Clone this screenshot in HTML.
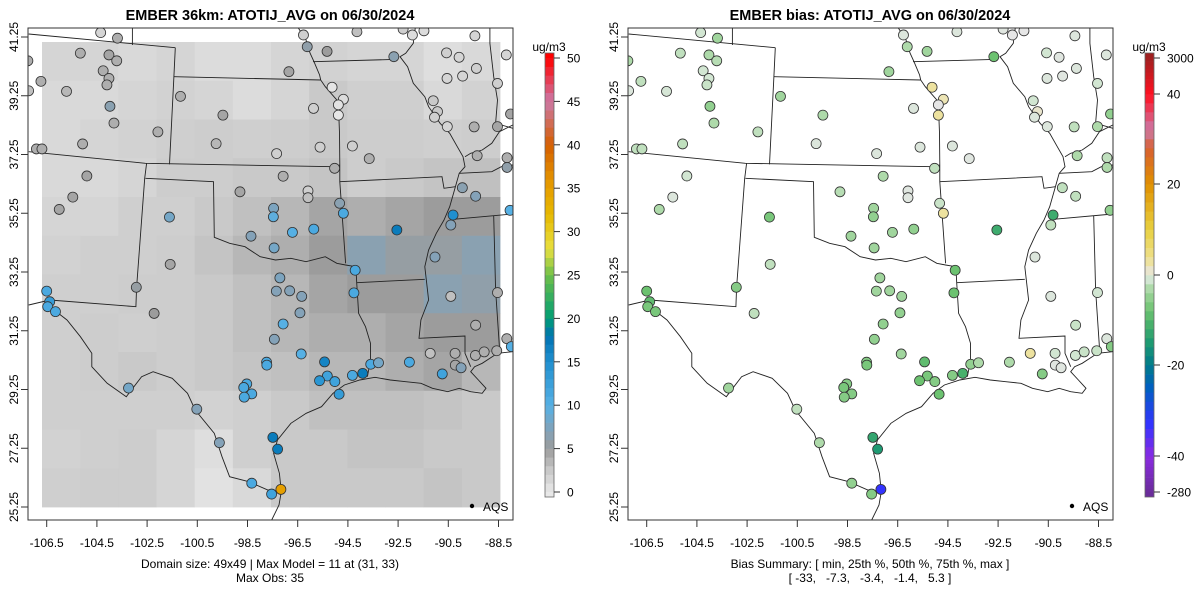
<!DOCTYPE html>
<html><head><meta charset="utf-8"><style>
html,body{margin:0;padding:0;background:#fff}
svg{display:block;font-family:"Liberation Sans",Arial,sans-serif}
</style></head><body>
<svg id="chart" width="1200" height="600" viewBox="0 0 1200 600" xmlns="http://www.w3.org/2000/svg"></svg>
<script>
// ---------- data ----------
const lonTicks = [-106.5,-104.5,-102.5,-100.5,-98.5,-96.5,-94.5,-92.5,-90.5,-88.5];
const latTicks = [41.25,39.25,37.25,35.25,33.25,31.25,29.25,27.25,25.25];
const obsBarTicks = [0,5,10,15,20,25,30,35,40,45,50];
const biasBarTicks = [-280,-40,-20,0,20,40,3000];
// model grid (coarse 12x12, top row = north), values ug/m3
const modelGrid = [
[1.5,1.5,1.2,1.5,1.0,1.0,1.5,1.8,1.5,1.5,0.8,1.2],
[1.2,1.2,1.5,1.8,1.5,1.0,1.5,2.5,2.0,2.0,1.2,1.8],
[1.2,1.5,1.8,2.0,2.2,2.0,2.2,2.5,2.2,2.2,2.0,2.2],
[1.2,1.2,1.5,2.2,2.2,2.5,2.5,2.8,2.2,2.5,2.8,3.0],
[1.5,1.5,2.0,2.0,2.5,3.0,3.5,4.5,4.0,4.5,5.0,5.0],
[1.8,2.0,2.0,2.2,2.8,3.5,4.0,5.0,6.5,5.5,5.5,6.5],
[2.0,2.0,2.2,2.2,2.5,3.0,3.5,4.5,5.0,5.0,6.5,6.0],
[2.0,2.2,2.0,2.2,2.5,3.0,3.5,4.0,4.0,4.5,5.0,5.0],
[2.0,2.2,2.5,2.2,2.5,2.8,3.0,3.5,3.5,4.0,4.5,3.5],
[2.0,2.0,2.0,2.0,1.8,2.0,2.5,3.0,3.0,3.0,2.8,2.5],
[1.8,2.0,2.2,1.5,0.8,2.0,2.5,2.5,2.8,2.8,2.5,2.5],
[2.0,2.2,2.2,1.5,0.5,1.2,2.5,2.5,2.5,2.5,2.8,2.5]];
const stLon = [-104.35,-103.68,-105.16,-104.02,-103.71,-104.25,-104.02,-104.10,-106.73,-105.71,-107.25,-107.22,-103.98,-103.82,-105.07,-106.91,-106.69,-102.07,-101.17,-99.48,-99.75,-97.34,-96.85,-96.27,-96.12,-95.33,-94.14,-92.30,-91.93,-91.47,-92.67,-95.13,-94.68,-94.88,-94.88,-95.87,-95.61,-94.32,-93.65,-95.03,-90.57,-90.07,-89.44,-89.38,-90.55,-89.93,-88.19,-88.54,-91.10,-90.93,-91.05,-90.54,-89.47,-88.54,-88.02,-89.35,-88.16,-88.16,-89.94,-89.41,-88.04,-90.31,-90.40,-91.03,-92.55,-94.83,-94.68,-95.86,-96.71,-97.46,-97.47,-96.09,-96.09,-97.08,-98.80,-98.36,-97.44,-101.61,-101.58,-104.90,-105.46,-106.00,-94.21,-94.26,-97.21,-97.35,-96.82,-96.34,-102.93,-106.50,-90.40,-88.54,-106.38,-106.46,-106.15,-102.22,-96.41,-97.08,-97.43,-96.36,-97.74,-97.73,-95.43,-93.59,-93.28,-92.05,-91.22,-90.23,-89.42,-89.07,-88.57,-88.17,-87.99,-89.41,-90.74,-90.22,-89.99,-93.91,-94.32,-95.32,-95.63,-95.02,-94.85,-98.53,-98.65,-98.33,-98.63,-103.24,-100.52,-99.62,-97.49,-97.30,-98.33,-97.54,-97.17];
const stLat = [41.40,41.21,40.70,40.64,40.44,40.10,39.84,39.62,39.74,39.40,40.44,39.42,38.89,38.32,37.61,37.44,37.44,38.02,39.23,38.59,37.62,37.28,40.07,41.32,40.92,40.76,41.43,41.52,41.32,41.46,40.58,39.54,39.13,38.94,38.59,38.82,37.50,37.54,37.11,36.78,40.71,40.56,41.29,40.18,39.84,39.92,40.64,39.67,39.08,38.71,38.52,38.20,38.19,38.20,38.63,37.21,37.14,36.81,36.12,35.83,35.35,35.19,34.85,33.76,34.68,35.59,35.25,34.71,34.60,35.42,35.13,36.01,35.78,36.51,35.98,34.47,34.07,35.12,33.51,36.52,35.80,35.38,33.31,32.54,33.05,32.60,32.61,32.42,32.73,32.60,32.42,32.55,32.24,32.07,31.90,31.84,31.86,31.48,30.96,30.46,30.18,30.08,30.19,30.11,30.16,30.18,30.48,30.48,30.41,30.53,30.57,30.98,30.71,31.44,29.78,30.08,29.99,29.80,29.73,29.71,29.55,29.52,29.09,29.44,29.32,29.10,28.99,29.30,28.58,27.44,27.62,27.22,26.06,25.69,25.85];
const stObs = [1.5,4,4,4.5,4,4,4,4,4,3.5,4,3,6.5,4,4,4,4,4,4,4.5,3.5,2,4.5,2,6,5,3,2,1,1,6.5,0.3,1,0.5,0.2,2,2,2,4,4,2,1.5,1.5,2,1.5,1.5,1.5,2,2.5,2.5,2,1.5,4,4.5,4.5,4,4,6,6.5,7,10,15,7,7,17,6.5,11,11,10,7.5,9.5,2,3,4,4.5,7,8,8,4.5,4.5,4.5,4.5,11,11,7.5,7,7,7,5.5,11,3,4,13,11,11,5,7,10,7,10,11,11,16,11,8,11,3,4,4,4,4,4,10,4,12,4.5,7,17,11,12,14,12,13,11,11,11,11,8,7,7,17,17,11,12,35];
const stBias = [-1,-4,-2,-3,-2.5,-1,-1,-1.5,-2,-0.8,-3,-0.5,-5,-3,-2,-2,-2,-2,-4,-3,-0.5,-0.5,-4,-0.5,-3,-4,-0.5,-0.3,0,0,-8,3,2,0,3,-0.5,-0.5,-0.5,-0.3,-2,-1,-0.3,-0.5,-0.5,-0.5,-0.3,-0.5,-1,-1,1,-0.5,-0.5,-2,-3,-5,-3,-2,-3,-2,-2,-5,-12,-2,-0.5,-12,-1.5,3,-5,-4,-4,-5,-0.3,-0.3,-3,-2.5,-4,-4,-7,-2,-1,-0.5,-3,-8,-8,-4,-4,-4,-4,-6,-8,-0.5,-1,-9,-7,-7,-2,-5,-5,-5,-4,-6,-7,-9,-5,-3,-3,3,-1,-1,-1.5,-1.5,-0.5,-6,-1.5,-6,-0.3,-0.3,-11,-6,-7,-8,-6,-8,-6,-7,-6,-6,-4,-2,-3,-13,-15,-5,-6,-33];

// ---------- helpers ----------
const NS='http://www.w3.org/2000/svg';
const svg=document.getElementById('chart');
function mk(tag,attrs,parent){const e=document.createElementNS(NS,tag);for(const k in attrs)e.setAttribute(k,attrs[k]);(parent||svg).appendChild(e);return e;}
function hex2rgb(h){return [parseInt(h.substr(1,2),16),parseInt(h.substr(3,2),16),parseInt(h.substr(5,2),16)];}
function interp(stops,v){
  if(v<=stops[0][0])return stops[0][1];
  for(let i=1;i<stops.length;i++){if(v<=stops[i][0]){const a=stops[i-1],b=stops[i];const t=(v-a[0])/(b[0]-a[0]);const c1=hex2rgb(a[1]),c2=hex2rgb(b[1]);return 'rgb('+c1.map((c,j)=>Math.round(c+(c2[j]-c)*t)).join(',')+')';}}
  return stops[stops.length-1][1];
}
const obsStops=[[0,'#e8e8e8'],[2.5,'#c9c9c9'],[5,'#9c9c9c'],[7,'#84a2b8'],[10,'#56b0e4'],[15,'#1f8fcf'],[18,'#0072b2'],[20,'#009e73'],[25,'#6dbf4a'],[28,'#e8e040'],[32,'#e6b800'],[35,'#e69f00'],[40,'#d55e00'],[45,'#cc79a7'],[50,'#ff0000']];
const biasStops=[[-280,'#6a2c9a'],[-40,'#8a2be2'],[-33,'#3333ff'],[-25,'#0060c0'],[-20,'#007a8a'],[-15,'#1e9a72'],[-11,'#48b06c'],[-8,'#6cc270'],[-5,'#92d090'],[-3,'#aedaaa'],[-1,'#d2e6d2'],[0,'#e6e6e6'],[2,'#ece4b4'],[4,'#eee08a'],[10,'#e8d040'],[20,'#e09000'],[28,'#d86030'],[32,'#cc79a7'],[40,'#ff1020'],[3000,'#a02020']];
const obsColor=v=>interp(obsStops,v), biasColor=v=>interp(biasStops,v);
function px(ox,lon){return ox+46.7+(lon+106.5)*25.1;}
function py(lat){return 507-(lat-25.25)*29.375;}

// basemap borders (pixel geometry of the map image, not data)
const borders=[
[[28.7,34],[175.3,47.7]],[[132.4,28.3],[132.4,45]],
[[175.3,47.7],[173.9,76.7],[169.5,164.3]],
[[173.9,76.7],[320.7,80]],
[[298.5,28.3],[306,40],[310,53],[314,61.7],[319.6,75],[320.7,80],[325.3,86.7],[331,93.3],[336.8,100],[338.3,110],[339,120],[339.5,133],[339.8,165],[339.8,181.7],[345.6,263.3]],
[[28.7,151.7],[145.4,163.3],[333,166.7],[339.8,165]],
[[339.8,181.7],[442,176.7],[444,188.3],[455.4,186.7]],
[[145.4,178.3],[213.5,181.7],[214.3,237.3],[229.6,243.3],[245,246.7],[260.2,256.7],[275.5,260],[290.9,258.3],[306,261.7],[325.3,256.7],[336.8,263.3],[345.6,265],[355.9,266.7],[356.7,282.7],[357.8,300],[358.6,313.3],[365.5,326.7],[370.5,343.3],[370.5,360],[367.4,376.7]],
[[356.7,282.7],[424.8,279.3]],
[[146.6,163.3],[144.7,178.3],[136.6,287.3],[135.9,306.7],[49.8,300],[28.7,305]],
[[49.8,306.7],[67,320],[80.4,336.7],[91.8,353.3],[91.8,366.7],[107.2,383.3],[126.3,396.7],[141.6,376.7],[153.1,371.7],[172.2,378.3],[187.5,393.3],[195.2,410],[214.3,433.3],[222,456.7],[229.6,476.7],[248.8,481.7],[267.9,490],[281.3,491.7]],
[[271.7,520],[279,505],[281.3,491.7],[279.4,473.3],[273.6,453.3],[277.5,440],[290.9,423.3],[306.2,413.3],[321.5,406.7],[333,393.3],[344.4,385],[359.7,380],[375,377.3],[390.3,380],[405.7,381.7],[421,383.3],[432.5,388.3],[447.7,391.7],[459.2,388.3],[470.7,391.7],[482.2,393.3],[486,388.3],[478.4,380],[470.7,371.7],[474.6,366.7],[482.2,363.3],[497.5,353.3],[512.8,351.7]],
[[415.2,28.3],[413.3,43.3],[405.7,53.3],[400,56.7],[407.6,66.7],[413.3,83.3],[424.8,96.7],[428.6,106.7],[440.1,123.3],[449.7,133.3],[457.3,146.7],[463,156.7],[465,166.7],[459.2,173.3],[455.4,186.7],[449.7,206.7],[444,220],[436.3,233.3],[428.6,250],[424.8,266.7],[426.7,283.3],[428.6,300],[420.9,320],[419,338.3],[465,336],[465,353.3],[470.7,366.7]],
[[313,61.7],[398,59.3]],
[[489.9,28.3],[489.9,43.3],[493.7,76.7],[497.5,100],[495.6,123.3],[512.8,128.3]],
[[512.8,125],[499.4,131.7],[491.8,143.3],[482.2,150],[470.7,153.3],[465,156.7]],
[[459.2,173.3],[491.8,171.7],[501.3,166.7],[512.8,165]],
[[453.5,219.3],[512.8,214]],
[[493.7,216],[495.6,290],[499.4,346.7]]];

function panel(ox,title,isBias,cap1,cap2){
  const g=mk('g',{});
  
  
  const t=mk('text',{x:ox+270,y:20,'text-anchor':'middle','font-size':'14.5','font-weight':'bold',fill:'#000'},g);
  t.textContent=title;
  
  
  const clip=mk('clipPath',{id:'clip'+ox},g);
  mk('rect',{x:ox+28,y:28,width:485,height:492},clip);
  const mg=mk('g',{'clip-path':'url(#clip'+ox+')'},g);
  if(!isBias){
    const rows=modelGrid.length,cols=modelGrid[0].length;
    const cw=458/cols,ch=465/rows;
    modelGrid.forEach((row,r)=>row.forEach((v,c)=>{
      const cell=mk('rect',{x:ox+42+c*cw,y:42+r*ch,width:cw+0.4,height:ch+0.4,fill:obsColor(v)},mg);
      
      
    }));
  }
  borders.forEach(b=>{
    const p=mk('polyline',{points:b.map(q=>(q[0]+ox)+','+q[1]).join(' '),fill:'none',stroke:'#222','stroke-width':0.9},mg);
    
    
  });
  const vals=isBias?stBias:stObs;
  stLon.forEach((lon,i)=>{
    const c=mk('circle',{cx:px(ox,lon),cy:py(stLat[i]),r:5,fill:isBias?biasColor(vals[i]):obsColor(vals[i]),stroke:'#333','stroke-width':0.8},mg);
    
    
  });
  const fr=mk('rect',{x:ox+28,y:28,width:485,height:492,fill:'none',stroke:'#333','stroke-width':1},g);
  
  
  const lg=mk('g',{},g);
  
  
  mk('circle',{cx:ox+472,cy:506,r:2.2,fill:'#000'},lg);
  const lt=mk('text',{x:ox+483,y:511,'font-size':'12',fill:'#000'},lg);lt.textContent='AQS';
  lonTicks.forEach(v=>{
    const x=px(ox,v);
    mk('line',{x1:x,y1:520,x2:x,y2:527,stroke:'#333'},g);
    const tx=mk('text',{x:x,y:547,'text-anchor':'middle','font-size':'12',fill:'#000'},g);
    tx.textContent=String(v);
    
    
  });
  latTicks.forEach(v=>{
    const y=py(v);
    mk('line',{x1:ox+28,y1:y,x2:ox+21,y2:y,stroke:'#333'},g);
    const ty=mk('text',{x:ox+18,y:y,'text-anchor':'middle','font-size':'12',fill:'#000',transform:'rotate(-90 '+(ox+18)+' '+y+')'},g);
    ty.textContent=v.toFixed(2);
    
    
  });
  const c1=mk('text',{x:ox+270,y:568,'text-anchor':'middle','font-size':'12',fill:'#000'},g);c1.textContent=cap1;
  
  
  const c2=mk('text',{x:ox+270,y:582,'text-anchor':'middle','font-size':'12',fill:'#000'},g);c2.textContent=cap2;
  
  
  const cb=mk('g',{},g);
  
  
  const ut=mk('text',{x:ox+549,y:51,'text-anchor':'middle','font-size':'12',fill:'#000'},cb);ut.textContent='ug/m3';
  const x0=ox+545,w=9;
  if(!isBias){
    const yOf=v=>492-v*(434/50);
    for(let v=0;v<50;v+=1){mk('rect',{x:x0,y:yOf(v+1),width:w,height:yOf(v)-yOf(v+1)+0.3,fill:obsColor(v+0.5)},cb);}
    mk('rect',{x:x0,y:yOf(50)-5,width:w,height:5,fill:obsColor(50)},cb);
    mk('rect',{x:x0,y:yOf(0),width:w,height:5,fill:obsColor(0)},cb);
    mk('rect',{x:x0,y:yOf(50)-5,width:w,height:444,fill:'none',stroke:'#666','stroke-width':0.8},cb);
    obsBarTicks.forEach(v=>{const y=yOf(v);mk('line',{x1:x0+w,y1:y,x2:x0+w+6,y2:y,stroke:'#333'},cb);
      const tt=mk('text',{x:x0+w+13,y:y+4.5,'font-size':'12',fill:'#000'},cb);tt.textContent=v;});
  } else {
    const tY=[492,456,365,275,184,94,58];
    const yOf=v=>{for(let i=1;i<biasBarTicks.length;i++){if(v<=biasBarTicks[i]){const a=biasBarTicks[i-1],b=biasBarTicks[i];return tY[i-1]+(tY[i]-tY[i-1])*(v-a)/(b-a);}}return 58;};
    for(let i=1;i<biasBarTicks.length;i++){
      const a=biasBarTicks[i-1],b=biasBarTicks[i];
      for(let k=0;k<10;k++){const va=a+(b-a)*k/10,vb=a+(b-a)*(k+1)/10;
        mk('rect',{x:x0,y:yOf(vb),width:w,height:yOf(va)-yOf(vb)+0.3,fill:biasColor((va+vb)/2)},cb);}
    }
    mk('rect',{x:x0,y:53,width:w,height:5,fill:biasColor(3000)},cb);
    mk('rect',{x:x0,y:492,width:w,height:5,fill:biasColor(-280)},cb);
    mk('rect',{x:x0,y:53,width:w,height:444,fill:'none',stroke:'#666','stroke-width':0.8},cb);
    biasBarTicks.forEach(v=>{const y=yOf(v);mk('line',{x1:x0+w,y1:y,x2:x0+w+6,y2:y,stroke:'#333'},cb);
      const tt=mk('text',{x:x0+w+13,y:y+4.5,'font-size':'12',fill:'#000'},cb);tt.textContent=v;});
  }
}
panel(0,'EMBER 36km: ATOTIJ_AVG on 06/30/2024',false,'Domain size: 49x49 | Max Model = 11 at (31, 33)','Max Obs: 35');
panel(600,'EMBER bias: ATOTIJ_AVG on 06/30/2024',true,'Bias Summary: [ min, 25th %, 50th %, 75th %, max ]','[ -33,\u00a0\u00a0 -7.3,\u00a0\u00a0 -3.4,\u00a0\u00a0 -1.4,\u00a0\u00a0 5.3 ]');
</script>
</body></html>
